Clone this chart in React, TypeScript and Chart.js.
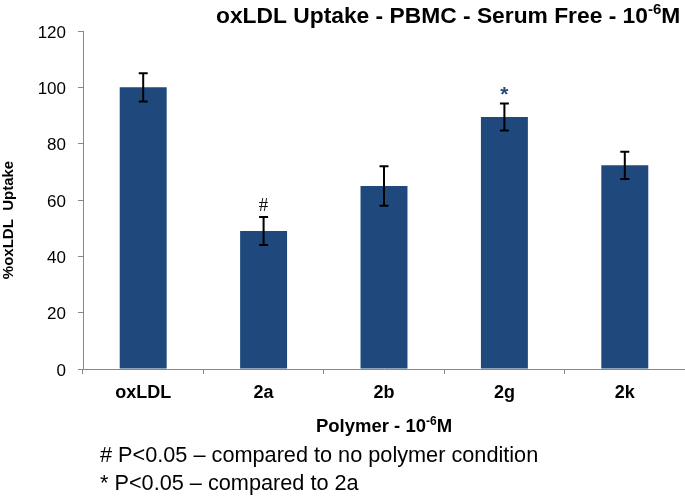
import React, { useEffect, useRef } from 'react';
import { Chart, registerables } from 'chart.js';

Chart.register(...registerables);

const categories = ['oxLDL', '2a', '2b', '2g', '2k'];
const values = [100, 49, 65, 89.5, 72.3];
const errors = [5, 5, 7, 4.8, 4.8];
const markers = ['', '#', '', '*', ''];
const yMin = 0;
const yMax = 120;
const yStep = 20;
const titleParts = ['oxLDL Uptake - PBMC - Serum Free - 10', '-6', 'M'];
const xTitleParts = ['Polymer - 10', '-6', 'M'];
const yTitle = '%oxLDL  Uptake';
const footnotes = ['# P<0.05 \u2013 compared to no polymer condition', '* P<0.05 \u2013 compared to 2a'];

const FONT = '"Liberation Sans", Arial, Helvetica, sans-serif';
const BAR_COLOR = '#1F497D';

function drawSup(ctx: CanvasRenderingContext2D, parts: string[], x: number, y: number, size: number, supSize: number, bold: boolean, align: 'left' | 'center') {
  const w = bold ? 'bold ' : '';
  const f1 = `${w}${size}px ${FONT}`;
  const f2 = `${w}${supSize}px ${FONT}`;
  ctx.save();
  ctx.textBaseline = 'alphabetic';
  ctx.textAlign = 'left';
  ctx.font = f1;
  const w0 = ctx.measureText(parts[0]).width;
  const w2 = ctx.measureText(parts[2]).width;
  ctx.font = f2;
  const w1 = ctx.measureText(parts[1]).width;
  const total = w0 + w1 + w2;
  let cx = align === 'center' ? x - total / 2 : x;
  ctx.fillStyle = '#000';
  ctx.font = f1;
  ctx.fillText(parts[0], cx, y);
  cx += w0;
  ctx.font = f2;
  ctx.fillText(parts[1], cx, y - size * 0.4);
  cx += w1;
  ctx.font = f1;
  ctx.fillText(parts[2], cx, y);
  ctx.restore();
}

const extrasPlugin = {
  id: 'extras',
  afterDatasetsDraw(chart: any) {
    const ctx: CanvasRenderingContext2D = chart.ctx;
    const yScale = chart.scales.y;
    const meta = chart.getDatasetMeta(0);
    ctx.save();
    ctx.strokeStyle = '#000';
    ctx.lineWidth = 2;
    meta.data.forEach((bar: any, i: number) => {
      const x = bar.x;
      const top = yScale.getPixelForValue(values[i] + errors[i]);
      const bot = yScale.getPixelForValue(values[i] - errors[i]);
      ctx.beginPath();
      ctx.moveTo(x, top);
      ctx.lineTo(x, bot);
      ctx.moveTo(x - 4.5, top);
      ctx.lineTo(x + 4.5, top);
      ctx.moveTo(x - 4.5, bot);
      ctx.lineTo(x + 4.5, bot);
      ctx.stroke();
      const m = markers[i];
      if (m) {
        ctx.font = m === '*' ? `bold 21px ${FONT}` : `19px "Liberation Serif", serif`;
        ctx.fillStyle = m === '*' ? '#2A4A78' : '#111';
        ctx.textAlign = 'center';
        ctx.textBaseline = 'alphabetic';
        const mt = ctx.measureText(m);
        const center = top - 12;
        const base = center + (mt.actualBoundingBoxAscent - mt.actualBoundingBoxDescent) / 2;
        ctx.fillText(m, x, base);
      }
    });
    ctx.restore();
  },
  afterDraw(chart: any) {
    const ctx: CanvasRenderingContext2D = chart.ctx;
    const area = chart.chartArea;
    drawSup(ctx, titleParts, 216, 23, 22.8, 15, true, 'left');
    drawSup(ctx, xTitleParts, (area.left + area.right) / 2, 432, 18.5, 12, true, 'center');
    ctx.save();
    ctx.fillStyle = '#000';
    ctx.font = `bold 15px ${FONT}`;
    ctx.textAlign = 'center';
    ctx.textBaseline = 'alphabetic';
    ctx.translate(13, 220);
    ctx.rotate(-Math.PI / 2);
    ctx.fillText(yTitle, 0, 0);
    ctx.restore();
    ctx.save();
    ctx.fillStyle = '#000';
    ctx.font = `21.7px ${FONT}`;
    ctx.textAlign = 'left';
    ctx.textBaseline = 'alphabetic';
    footnotes.forEach((t, i) => ctx.fillText(t, 100, 462 + i * 27.5));
    ctx.restore();
  },
};

export default function App() {
  const ref = useRef<HTMLCanvasElement | null>(null);
  useEffect(() => {
    if (!ref.current) return;
    const chart = new Chart(ref.current, {
      type: 'bar',
      data: {
        labels: categories,
        datasets: [
          {
            data: values,
            backgroundColor: BAR_COLOR,
            borderWidth: 0,
            barPercentage: 0.78,
            categoryPercentage: 0.5,
          },
        ],
      },
      options: {
        responsive: false,
        animation: false,
        devicePixelRatio: 1,
        layout: { padding: { top: 31, right: 0, left: 0, bottom: 0 } },
        plugins: { legend: { display: false }, tooltip: { enabled: false }, title: { display: false } },
        scales: {
          x: {
            afterFit: (s: any) => { s.height = 127; },
            border: { color: '#888', width: 1 },
            grid: { display: true, drawOnChartArea: false, drawTicks: true, tickLength: 5, color: '#888', offset: true },
            ticks: { color: '#000', font: { family: FONT, size: 18, weight: 'bold' }, padding: 8 },
          },
          y: {
            min: yMin,
            max: yMax,
            afterFit: (s: any) => { s.width = 83; },
            border: { color: '#888', width: 1 },
            grid: { display: true, drawOnChartArea: false, drawTicks: true, tickLength: 5, color: '#888' },
            ticks: { stepSize: yStep, color: '#000', font: { family: FONT, size: 17 }, padding: 12, labelOffset: 2 },
            title: { display: false },
          },
        },
      },
      plugins: [extrasPlugin],
    });
    return () => chart.destroy();
  }, []);
  return (
    <div style={{ position: 'fixed', left: 0, top: 0, width: 685, height: 496, background: '#fff' }}>
      <canvas ref={ref} width={685} height={496} style={{ width: 685, height: 496 }} />
    </div>
  );
}
